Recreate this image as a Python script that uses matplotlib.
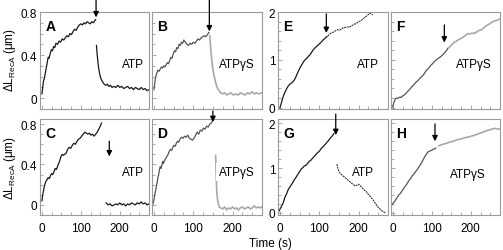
import numpy as np
import matplotlib.pyplot as plt
from matplotlib.ticker import MultipleLocator

plt.rcParams['font.family'] = ['Liberation Sans', 'DejaVu Sans']
plt.rcParams['mathtext.fontset'] = 'custom'
plt.rcParams['mathtext.rm'] = 'Liberation Sans'

# ---- data (time in s, length change in um) ----
a_t = [0,2,4,6,8,10,12,14,16,18,21,24,27,30,33,36,40,44,48,52,56,60,64,68,72,76,80,84,88,92,96,100,104,108,112,116,120,124,128,132,136,138]
a_v = [0.04,0.1,0.16,0.18,0.22,0.26,0.3,0.34,0.38,0.37,0.41,0.45,0.44,0.48,0.47,0.51,0.5,0.53,0.52,0.55,0.54,0.56,0.58,0.57,0.6,0.59,0.62,0.64,0.63,0.66,0.68,0.69,0.68,0.7,0.69,0.71,0.7,0.69,0.71,0.7,0.72,0.73]
a2_t = [140,142,144,146,148,150,153,156,160,164,168,172,176,180,185,190,195,200,205,210,215,220,225,230,235,240,245,250,255,260,265,270,275]
a2_v = [0.49,0.4,0.33,0.27,0.23,0.2,0.17,0.15,0.13,0.12,0.13,0.11,0.12,0.1,0.11,0.1,0.12,0.1,0.11,0.09,0.1,0.11,0.09,0.1,0.08,0.1,0.09,0.08,0.1,0.08,0.09,0.07,0.08]

b_t = [0,2,4,6,8,10,13,16,19,22,25,28,31,34,37,40,43,46,49,52,55,58,61,64,67,70,73,76,80,84,88,92,96,100,104,108,112,116,120,124,128,132,136,140]
b_v = [0.08,0.14,0.19,0.22,0.24,0.26,0.25,0.27,0.29,0.28,0.3,0.29,0.31,0.33,0.32,0.35,0.38,0.37,0.41,0.44,0.43,0.47,0.46,0.5,0.49,0.52,0.51,0.54,0.52,0.5,0.49,0.51,0.5,0.52,0.51,0.53,0.55,0.54,0.56,0.57,0.58,0.57,0.59,0.61]
b2_t = [142,144,146,148,150,153,156,159,162,166,170,175,180,185,190,196,202,208,214,220,226,232,238,244,250,256,262,268,274]
b2_v = [0.58,0.48,0.4,0.33,0.27,0.21,0.16,0.12,0.09,0.07,0.05,0.04,0.05,0.03,0.04,0.05,0.03,0.04,0.03,0.05,0.04,0.03,0.05,0.04,0.06,0.04,0.05,0.04,0.05]

c_t = [0,2,4,6,8,10,13,16,19,22,25,28,31,34,37,40,43,46,49,52,55,58,62,66,70,74,78,82,86,90,94,98,102,106,110,114,118,122,126,130,134,138,142,146,150,153]
c_v = [0.04,0.1,0.14,0.18,0.21,0.23,0.25,0.27,0.26,0.29,0.31,0.3,0.33,0.36,0.35,0.38,0.41,0.44,0.48,0.5,0.49,0.5,0.51,0.55,0.57,0.56,0.59,0.61,0.6,0.63,0.65,0.66,0.68,0.7,0.72,0.71,0.7,0.71,0.69,0.7,0.68,0.7,0.72,0.75,0.78,0.81]
c2_t = [165,170,175,180,185,190,195,200,205,210,215,220,225,230,235,240,245,250,255,260,265,270,275]
c2_v = [0.02,0.0,0.01,-0.01,0.0,0.01,0.0,0.02,0.0,0.01,-0.01,0.01,0.0,0.02,0.01,0.0,0.02,0.01,0.03,0.01,0.02,0.0,0.01]

d_t = [-3,0,2,4,6,8,10,12,14,16,18,20,22,24,27,30,33,36,39,42,45,48,51,54,57,60,63,66,70,74,78,82,86,90,94,98,102,106,110,114,118,122,126,130,134,138,142,146,150]
d_v = [0.0,0.05,0.1,0.14,0.18,0.22,0.27,0.3,0.35,0.38,0.36,0.39,0.43,0.41,0.44,0.46,0.48,0.5,0.53,0.55,0.54,0.57,0.59,0.58,0.61,0.63,0.62,0.65,0.67,0.66,0.68,0.67,0.69,0.66,0.65,0.64,0.66,0.69,0.72,0.7,0.74,0.73,0.76,0.75,0.78,0.77,0.8,0.81,0.84]
d2_t = [157,158,159,160,162,164,166,170,175,180,185,190,195,200,205,210,215,220,225,230,235,240,245,250,255,260,265,270,275]
d2_v = [0.49,0.35,0.22,0.12,0.05,0.01,-0.02,-0.03,-0.04,-0.02,-0.05,-0.03,-0.04,-0.02,-0.04,-0.03,-0.05,-0.03,-0.02,-0.04,-0.03,-0.02,-0.04,-0.03,-0.01,-0.03,-0.02,-0.03,-0.02]

e_t = [0,3,6,9,12,15,18,21,24,27,30,33,36,40,44,48,52,56,60,64,68,72,76,80,84,88,92,96,100,104,108,112,116,120]
e_v = [0.0,0.08,0.17,0.25,0.31,0.36,0.41,0.45,0.48,0.5,0.52,0.54,0.57,0.63,0.71,0.78,0.85,0.9,0.96,1.0,1.03,1.07,1.1,1.15,1.2,1.24,1.27,1.3,1.33,1.36,1.4,1.43,1.46,1.49]
e2_t = [122,128,134,140,146,152,158,164,170,176,182,188,194,200,206,212,218,224,228,232,236]
e2_v = [1.5,1.55,1.57,1.6,1.63,1.62,1.66,1.67,1.69,1.68,1.71,1.74,1.76,1.79,1.82,1.86,1.9,1.94,1.98,1.96,1.94]

f_t = [-3,0,3,6,9,12,15,18,21,24,27,30,34,38,42,46,50,54,58,62,66,70,74,78,82,86,90,94,98,102,106,110,114,118,122,126,130,134,138,141]
f_v = [0.0,0.04,0.12,0.18,0.2,0.19,0.21,0.22,0.21,0.24,0.25,0.27,0.3,0.34,0.37,0.41,0.45,0.48,0.52,0.55,0.58,0.62,0.65,0.68,0.73,0.78,0.81,0.85,0.89,0.92,0.96,0.99,1.01,1.04,1.06,1.09,1.12,1.16,1.2,1.24]
f2_t = [143,148,153,158,163,168,173,178,183,188,193,198,203,208,213,218,223,228,233,238,243,248,253,258,263,268,273]
f2_v = [1.25,1.29,1.33,1.37,1.39,1.42,1.44,1.46,1.49,1.52,1.55,1.54,1.56,1.55,1.57,1.6,1.62,1.63,1.67,1.7,1.73,1.75,1.78,1.8,1.82,1.83,1.85]

g_t = [-3,0,3,6,9,12,15,18,21,24,27,30,34,38,42,46,50,54,58,62,66,70,74,78,82,86,90,94,98,102,106,110,114,118,122,126,130,134,137]
g_v = [0.03,0.08,0.13,0.18,0.24,0.33,0.39,0.45,0.52,0.56,0.6,0.64,0.7,0.76,0.81,0.87,0.92,0.98,1.01,1.05,1.06,1.1,1.15,1.17,1.21,1.25,1.29,1.33,1.36,1.4,1.45,1.48,1.52,1.56,1.6,1.65,1.69,1.73,1.77]
g2_t = [145,148,152,156,160,164,168,172,176,180,184,188,192,196,200,204,208,212,216,220,224,228,232,236,240,244,248,252,256,260,264,268]
g2_v = [1.09,0.97,0.9,0.86,0.83,0.8,0.77,0.74,0.71,0.68,0.65,0.62,0.6,0.62,0.64,0.61,0.57,0.53,0.5,0.47,0.42,0.38,0.34,0.3,0.25,0.2,0.14,0.11,0.07,0.04,0.02,0.0]

h_t = [-5,-2,1,4,7,10,13,16,19,22,25,28,31,34,37,40,43,46,49,52,55,58,61,64,67,70,73,76,79,82,85,88,91,94,97,100,103,106,110]
h_v = [0.16,0.18,0.22,0.25,0.29,0.33,0.37,0.41,0.43,0.47,0.51,0.55,0.59,0.62,0.66,0.71,0.74,0.78,0.82,0.85,0.88,0.92,0.95,0.99,1.03,1.07,1.11,1.16,1.21,1.26,1.3,1.34,1.37,1.38,1.39,1.4,1.42,1.43,1.45]
h2_t = [118,124,130,136,142,148,154,160,166,172,178,184,190,196,202,208,214,220,226,232,238,244,250,256,262,268,274]
h2_v = [1.5,1.52,1.54,1.55,1.57,1.59,1.6,1.62,1.64,1.65,1.66,1.68,1.69,1.7,1.72,1.73,1.75,1.77,1.79,1.81,1.83,1.85,1.86,1.88,1.89,1.88,1.87]

letters = ['A', 'B', 'E', 'F', 'C', 'D', 'G', 'H']
labels = ['ATP', 'ATP\u03b3S', 'ATP', 'ATP\u03b3S', 'ATP', 'ATP\u03b3S', 'ATP', 'ATP\u03b3S']

DARK = '#1a1a1a'
MID = '#555555'
LIGHT = '#a8a8a8'
SPINE = '#9a9a9a'

W, H = 503, 251
fig = plt.figure(figsize=(W / 100, H / 100), dpi=100)

lefts = [40, 152, 278, 391]
widths = [109, 110, 110, 109]
rows = [(13, 110), (120, 216)]


def make_axes(col, row):
    top, bot = rows[row]
    return fig.add_axes([lefts[col] / W, 1 - bot / H, widths[col] / W, (bot - top) / H])


def style(ax, ylim, ymajor, yminor, show_y, show_x):
    ax.set_xlim(-5, 275)
    ax.set_ylim(*ylim)
    ax.xaxis.set_major_locator(MultipleLocator(100))
    ax.xaxis.set_minor_locator(MultipleLocator(25))
    ax.yaxis.set_major_locator(MultipleLocator(ymajor))
    ax.yaxis.set_minor_locator(MultipleLocator(yminor))
    for s in ax.spines.values():
        s.set_color(SPINE)
        s.set_linewidth(0.8)
    ax.tick_params(which='both', direction='in', color=SPINE, width=0.6,
                   labelsize=8.5, pad=2)
    ax.tick_params(which='major', length=3)
    ax.tick_params(which='minor', length=2)
    ax.tick_params(axis='x', pad=5)
    if not show_y:
        ax.set_yticklabels([])
    else:
        ax.yaxis.set_major_formatter(plt.FuncFormatter(
            lambda v, p: ('%g' % round(v, 2))))
    if not show_x:
        ax.set_xticklabels([])


def arrow(ax, t, y0, y1):
    ax.annotate('', xy=(t, y1), xytext=(t, y0), annotation_clip=False,
                arrowprops=dict(arrowstyle='-|>', color='k', lw=0.9,
                                mutation_scale=8, shrinkA=0, shrinkB=0))


panels = [
    # col, row, main, post, colors, ylim, arrow(t, from, to)
    (0, 0, (a_t, a_v), (a2_t, a2_v), (DARK, DARK), (-0.1, 0.8), (139, 0.92, 0.75)),
    (1, 0, (b_t, b_v), (b2_t, b2_v), (MID, LIGHT), (-0.1, 0.8), (141, 0.92, 0.62)),
    (2, 0, (e_t, e_v), (e2_t, e2_v), (DARK, DARK), (-0.03, 2.0), (118, 1.96, 1.56)),
    (3, 0, (f_t, f_v), (f2_t, f2_v), (MID, LIGHT), (-0.03, 2.0), (132, 1.73, 1.36)),
    (0, 1, (c_t, c_v), (c2_t, c2_v), (DARK, DARK), (-0.1, 0.85), (173, 0.63, 0.48)),
    (1, 1, (d_t, d_v), (d2_t, d2_v), (MID, LIGHT), (-0.1, 0.85), (150, 0.93, 0.82)),
    (2, 1, (g_t, g_v), (g2_t, g2_v), (DARK, DARK), (-0.05, 2.1), (142, 2.21, 1.74)),
    (3, 1, (h_t, h_v), (h2_t, h2_v), (MID, LIGHT), (-0.05, 2.1), (108, 1.99, 1.6)),
]

label_pos = [(0.85, 0.46), (0.77, 0.46), (0.82, 0.46), (0.76, 0.46),
             (0.85, 0.45), (0.77, 0.45), (0.77, 0.45), (0.70, 0.43)]

for i, (col, row, main, post, cols, ylim, arr) in enumerate(panels):
    ax = make_axes(col, row)
    big = ylim[1] > 1.5
    style(ax, ylim, 1 if big else 0.4, 0.2 if big else 0.1,
          col in (0, 2), row == 1)
    ax.plot(main[0], main[1], color=cols[0], lw=0.9)
    if cols[1] == LIGHT:
        ax.plot(post[0], post[1], color=cols[1], lw=1.2)
    elif col == 2:
        ax.plot(post[0], post[1], color=cols[1], lw=0.7, ls=(0, (2, 0.8)))
    else:
        ax.plot(post[0], post[1], color=cols[1], lw=0.9)
    arrow(ax, *arr)
    ax.text(0.05, 0.93, letters[i], transform=ax.transAxes, fontsize=10,
            fontweight='bold', ha='left', va='top')
    ax.text(label_pos[i][0], label_pos[i][1], labels[i], transform=ax.transAxes,
            fontsize=8.5, ha='center', va='center',
            bbox=dict(facecolor='white', edgecolor='none', pad=2))

ylab = '\u0394L$_{\\rm RecA}$ (\u03bcm)'
fig.text(10 / W, 1 - 60 / H, ylab, rotation=90, ha='center', va='center', fontsize=8.5)
fig.text(10 / W, 1 - 168 / H, ylab, rotation=90, ha='center', va='center', fontsize=8.5)
fig.text(270 / W, 1 - 244 / H, 'Time (s)', ha='center', va='center', fontsize=8.5)

fig.savefig('out.png', dpi=100)
